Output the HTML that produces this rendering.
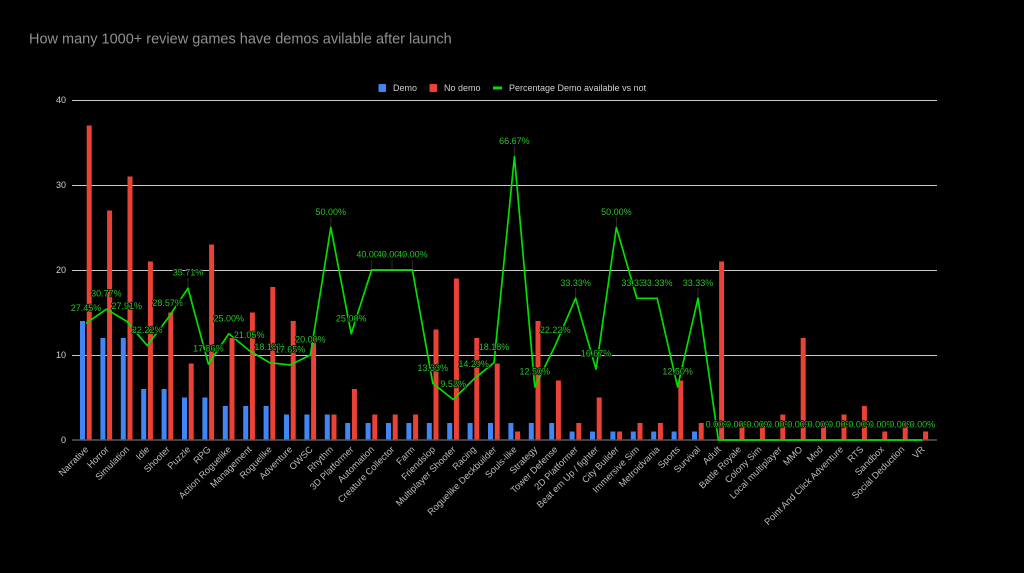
<!DOCTYPE html>
<html><head><meta charset="utf-8"><style>
html,body{margin:0;padding:0;background:#000;width:1024px;height:573px;overflow:hidden}
svg{display:block}
text{font-family:"Liberation Sans",Arial,sans-serif}
</style></head><body>
<svg width="1024" height="573" viewBox="0 0 1024 573" xmlns="http://www.w3.org/2000/svg">
<rect width="1024" height="573" fill="#000"/>
<text x="29" y="43.5" font-size="14.5" fill="#909090">How many 1000+ review games have demos avilable after launch</text>
<!-- legend -->
<rect x="378.5" y="84" width="7.5" height="8" rx="1" fill="#4285f4"/>
<text x="393" y="91" font-size="9" fill="#d0d0d0">Demo</text>
<rect x="429.5" y="84" width="7.5" height="8" rx="1" fill="#ea4335"/>
<text x="444" y="91" font-size="9" fill="#d0d0d0">No demo</text>
<rect x="493" y="86.5" width="9" height="3" fill="#00e000"/>
<text x="509" y="91" font-size="9" fill="#d0d0d0">Percentage Demo available vs not</text>
<!-- gridlines -->
<g stroke="#c8c8c8" stroke-width="1">
<line x1="72" y1="100.5" x2="937" y2="100.5"/>
<line x1="72" y1="185.5" x2="937" y2="185.5"/>
<line x1="72" y1="270.5" x2="937" y2="270.5"/>
<line x1="72" y1="355.5" x2="937" y2="355.5"/>
</g>
<g font-size="9" fill="#d0d0d0" text-anchor="end">
<text x="66" y="103">40</text>
<text x="66" y="188">30</text>
<text x="66" y="273">20</text>
<text x="66" y="358">10</text>
<text x="66" y="443">0</text>
</g>
<!-- blue bars -->
<g fill="#4285f4">
<rect x="80" y="321" width="5" height="119"/>
<rect x="100.4" y="338" width="5" height="102"/>
<rect x="120.8" y="338" width="5" height="102"/>
<rect x="141.2" y="389" width="5" height="51"/>
<rect x="161.6" y="389" width="5" height="51"/>
<rect x="182" y="397.5" width="5" height="42.5"/>
<rect x="202.4" y="397.5" width="5" height="42.5"/>
<rect x="222.8" y="406" width="5" height="34"/>
<rect x="243.2" y="406" width="5" height="34"/>
<rect x="263.6" y="406" width="5" height="34"/>
<rect x="284" y="414.5" width="5" height="25.5"/>
<rect x="304.4" y="414.5" width="5" height="25.5"/>
<rect x="324.8" y="414.5" width="5" height="25.5"/>
<rect x="345.2" y="423" width="5" height="17"/>
<rect x="365.6" y="423" width="5" height="17"/>
<rect x="386" y="423" width="5" height="17"/>
<rect x="406.4" y="423" width="5" height="17"/>
<rect x="426.8" y="423" width="5" height="17"/>
<rect x="447.2" y="423" width="5" height="17"/>
<rect x="467.6" y="423" width="5" height="17"/>
<rect x="488" y="423" width="5" height="17"/>
<rect x="508.4" y="423" width="5" height="17"/>
<rect x="528.8" y="423" width="5" height="17"/>
<rect x="549.2" y="423" width="5" height="17"/>
<rect x="569.6" y="431.5" width="5" height="8.5"/>
<rect x="590" y="431.5" width="5" height="8.5"/>
<rect x="610.4" y="431.5" width="5" height="8.5"/>
<rect x="630.8" y="431.5" width="5" height="8.5"/>
<rect x="651.2" y="431.5" width="5" height="8.5"/>
<rect x="671.6" y="431.5" width="5" height="8.5"/>
<rect x="692" y="431.5" width="5" height="8.5"/>
</g>
<!-- red bars -->
<g fill="#ea4335">
<rect x="86.7" y="125.5" width="5" height="314.5"/>
<rect x="107.1" y="210.5" width="5" height="229.5"/>
<rect x="127.5" y="176.5" width="5" height="263.5"/>
<rect x="147.9" y="261.5" width="5" height="178.5"/>
<rect x="168.3" y="312.5" width="5" height="127.5"/>
<rect x="188.7" y="363.5" width="5" height="76.5"/>
<rect x="209.1" y="244.5" width="5" height="195.5"/>
<rect x="229.5" y="338" width="5" height="102"/>
<rect x="249.9" y="312.5" width="5" height="127.5"/>
<rect x="270.3" y="287" width="5" height="153"/>
<rect x="290.7" y="321" width="5" height="119"/>
<rect x="311.1" y="338" width="5" height="102"/>
<rect x="331.5" y="414.5" width="5" height="25.5"/>
<rect x="351.9" y="389" width="5" height="51"/>
<rect x="372.3" y="414.5" width="5" height="25.5"/>
<rect x="392.7" y="414.5" width="5" height="25.5"/>
<rect x="413.1" y="414.5" width="5" height="25.5"/>
<rect x="433.5" y="329.5" width="5" height="110.5"/>
<rect x="453.9" y="278.5" width="5" height="161.5"/>
<rect x="474.3" y="338" width="5" height="102"/>
<rect x="494.7" y="363.5" width="5" height="76.5"/>
<rect x="515.1" y="431.5" width="5" height="8.5"/>
<rect x="535.5" y="321" width="5" height="119"/>
<rect x="555.9" y="380.5" width="5" height="59.5"/>
<rect x="576.3" y="423" width="5" height="17"/>
<rect x="596.7" y="397.5" width="5" height="42.5"/>
<rect x="617.1" y="431.5" width="5" height="8.5"/>
<rect x="637.5" y="423" width="5" height="17"/>
<rect x="657.9" y="423" width="5" height="17"/>
<rect x="678.3" y="380.5" width="5" height="59.5"/>
<rect x="698.7" y="423" width="5" height="17"/>
<rect x="719.1" y="261.5" width="5" height="178.5"/>
<rect x="739.5" y="423" width="5" height="17"/>
<rect x="759.9" y="423" width="5" height="17"/>
<rect x="780.3" y="414.5" width="5" height="25.5"/>
<rect x="800.7" y="338" width="5" height="102"/>
<rect x="821.1" y="423" width="5" height="17"/>
<rect x="841.5" y="414.5" width="5" height="25.5"/>
<rect x="861.9" y="406" width="5" height="34"/>
<rect x="882.3" y="431.5" width="5" height="8.5"/>
<rect x="902.7" y="423" width="5" height="17"/>
<rect x="923.1" y="431.5" width="5" height="8.5"/>
</g>
<!-- baseline -->
<line x1="72" y1="440" x2="937" y2="440" stroke="#5a5a5a" stroke-width="1.5"/>
<!-- leader lines -->
<g stroke="#2a2a2a" stroke-width="1">
<line x1="330.8" y1="217" x2="330.8" y2="227"/>
<line x1="514.4" y1="146" x2="514.4" y2="156"/>
<line x1="616.4" y1="217" x2="616.4" y2="227"/>
<line x1="188" y1="278" x2="188" y2="288"/>
<line x1="371.6" y1="260" x2="371.6" y2="270"/>
<line x1="392" y1="260" x2="392" y2="270"/>
<line x1="412.4" y1="260" x2="412.4" y2="270"/>
<line x1="575.6" y1="288" x2="575.6" y2="298"/>
<line x1="636.8" y1="288" x2="636.8" y2="298"/>
<line x1="698" y1="288" x2="698" y2="298"/>
</g>
<!-- percentage line -->
<polyline fill="none" stroke="#00e000" stroke-width="1.7" stroke-linejoin="round" points="86,323.3 106.4,309.2 126.8,321.4 147.2,345.6 167.6,318.6 188,288.2 208.4,364.1 228.8,333.75 249.2,350.5 269.6,362.7 290,365 310.4,355 330.8,227.5 351.2,333.75 371.6,270 392,270 412.4,270 432.8,383.3 453.2,399.5 473.6,379.3 494,362.7 514.4,156.7 534.8,386.9 555.2,345.6 575.6,298.3 596,369.2 616.4,227.5 636.8,298.3 657.2,298.3 677.6,386.9 698,298.3 718.4,440 922.4,440"/>
<!-- data labels -->
<g font-size="9" fill="#26c426" stroke="#000" stroke-width="1.6" paint-order="stroke" stroke-linejoin="round" text-anchor="middle">
<text x="86" y="310.8">27.45%</text>
<text x="106.4" y="296.7">30.77%</text>
<text x="126.8" y="308.9">27.91%</text>
<text x="147.2" y="333.1">22.22%</text>
<text x="167.6" y="306.1">28.57%</text>
<text x="188" y="275.7">35.71%</text>
<text x="208.4" y="351.6">17.86%</text>
<text x="228.8" y="321.25">25.00%</text>
<text x="249.2" y="338">21.05%</text>
<text x="269.6" y="350.2">18.18%</text>
<text x="290" y="352.5">17.65%</text>
<text x="310.4" y="342.5">20.00%</text>
<text x="330.8" y="215">50.00%</text>
<text x="351.2" y="321.25">25.00%</text>
<text x="371.6" y="257.5">40.00%</text>
<text x="392" y="257.5">40.00%</text>
<text x="412.4" y="257.5">40.00%</text>
<text x="432.8" y="370.8">13.33%</text>
<text x="453.2" y="387">9.52%</text>
<text x="473.6" y="366.8">14.29%</text>
<text x="494" y="350.2">18.18%</text>
<text x="514.4" y="144.2">66.67%</text>
<text x="534.8" y="374.4">12.50%</text>
<text x="555.2" y="333.1">22.22%</text>
<text x="575.6" y="285.8">33.33%</text>
<text x="596" y="356.7">16.67%</text>
<text x="616.4" y="215">50.00%</text>
<text x="636.8" y="285.8">33.33%</text>
<text x="657.2" y="285.8">33.33%</text>
<text x="677.6" y="374.4">12.50%</text>
<text x="698" y="285.8">33.33%</text>
<text x="718.4" y="427.5">0.00%</text>
<text x="738.8" y="427.5">0.00%</text>
<text x="759.2" y="427.5">0.00%</text>
<text x="779.6" y="427.5">0.00%</text>
<text x="800" y="427.5">0.00%</text>
<text x="820.4" y="427.5">0.00%</text>
<text x="840.8" y="427.5">0.00%</text>
<text x="861.2" y="427.5">0.00%</text>
<text x="881.6" y="427.5">0.00%</text>
<text x="902" y="427.5">0.00%</text>
<text x="922.4" y="427.5">0.00%</text>
</g>
<!-- x labels -->
<g font-size="9.3" fill="#bdbdbd" text-anchor="end">
<text transform="translate(89,450) rotate(-45)">Narrative</text>
<text transform="translate(109.4,450) rotate(-45)">Horror</text>
<text transform="translate(129.8,450) rotate(-45)">Simulation</text>
<text transform="translate(150.2,450) rotate(-45)">Idle</text>
<text transform="translate(170.6,450) rotate(-45)">Shooter</text>
<text transform="translate(191,450) rotate(-45)">Puzzle</text>
<text transform="translate(211.4,450) rotate(-45)">RPG</text>
<text transform="translate(231.8,450) rotate(-45)">Action Roguelike</text>
<text transform="translate(252.2,450) rotate(-45)">Management</text>
<text transform="translate(272.6,450) rotate(-45)">Roguelike</text>
<text transform="translate(293,450) rotate(-45)">Adventure</text>
<text transform="translate(313.4,450) rotate(-45)">OWSC</text>
<text transform="translate(333.8,450) rotate(-45)">Rhythm</text>
<text transform="translate(354.2,450) rotate(-45)">3D Platformer</text>
<text transform="translate(374.6,450) rotate(-45)">Automation</text>
<text transform="translate(395,450) rotate(-45)">Creature Collector</text>
<text transform="translate(415.4,450) rotate(-45)">Farm</text>
<text transform="translate(435.8,450) rotate(-45)">Friendslop</text>
<text transform="translate(456.2,450) rotate(-45)">Multiplayer Shooter</text>
<text transform="translate(476.6,450) rotate(-45)">Racing</text>
<text transform="translate(497,450) rotate(-45)">Roguelike Deckbuilder</text>
<text transform="translate(517.4,450) rotate(-45)">Souls-like</text>
<text transform="translate(537.8,450) rotate(-45)">Strategy</text>
<text transform="translate(558.2,450) rotate(-45)">Tower Defense</text>
<text transform="translate(578.6,450) rotate(-45)">2D Platformer</text>
<text transform="translate(599,450) rotate(-45)">Beat em Up / fighter</text>
<text transform="translate(619.4,450) rotate(-45)">City Builder</text>
<text transform="translate(639.8,450) rotate(-45)">Immersive Sim</text>
<text transform="translate(660.2,450) rotate(-45)">Metroidvania</text>
<text transform="translate(680.6,450) rotate(-45)">Sports</text>
<text transform="translate(701,450) rotate(-45)">Survival</text>
<text transform="translate(721.4,450) rotate(-45)">Adult</text>
<text transform="translate(741.8,450) rotate(-45)">Battle Royale</text>
<text transform="translate(762.2,450) rotate(-45)">Colony Sim</text>
<text transform="translate(782.6,450) rotate(-45)">Local multiplayer</text>
<text transform="translate(803,450) rotate(-45)">MMO</text>
<text transform="translate(823.4,450) rotate(-45)">Mod</text>
<text transform="translate(843.8,450) rotate(-45)">Point And Click Adventure</text>
<text transform="translate(864.2,450) rotate(-45)">RTS</text>
<text transform="translate(884.6,450) rotate(-45)">Sandbox</text>
<text transform="translate(905,450) rotate(-45)">Social Deduction</text>
<text transform="translate(925.4,450) rotate(-45)">VR</text>
</g>
</svg>
</body></html>
